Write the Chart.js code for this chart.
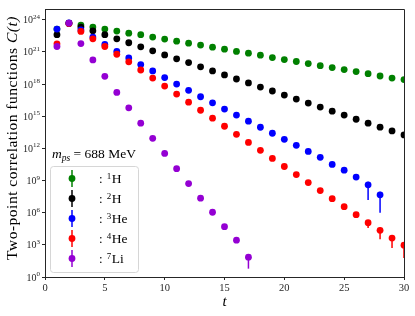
<!DOCTYPE html>
<html>
<head>
<meta charset="utf-8">
<script src="https://cdn.jsdelivr.net/npm/chart.js@4.4.0/dist/chart.umd.min.js"></script>
<style>
  body { margin: 0; background: #fff; }
</style>
</head>
<body>
<canvas id="corr_chart" width="415" height="316"></canvas>
<script>
// time slices
const t_vals = [1, 2, 3, 4, 5, 6, 7, 8, 9, 10, 11, 12, 13, 14, 15, 16, 17, 18, 19, 20,
  21, 22, 23, 24, 25, 26, 27, 28, 29, 30];

// correlator values
const h1_vals = [1.35e23, 4.9e23, 3.16e23, 2.04e23, 1.35e23, 8.7e22, 5.6e22, 4.0e22, 2.4e22, 1.55e22,
  1.0e22, 6.5e21, 4.3e21, 2.75e21, 1.78e21, 1.1e21, 7.6e20, 4.9e20, 2.95e20, 1.9e20,
  1.26e20, 8.1e19, 5.2e19, 3.4e19, 2.24e19, 1.45e19, 9.3e18, 5.6e18, 3.6e18, 2.6e18];
const h2_vals = [4.0e22, 4.5e23, 2.04e23, 9.3e22, 4.0e22, 1.66e22, 7.1e21, 2.95e21, 1.26e21, 5.2e20,
  2.24e20, 1.0e20, 4.0e19, 1.66e19, 7.1e18, 2.95e18, 1.26e18, 5.2e17, 2.24e17, 9.3e16,
  4.0e16, 1.66e16, 7.1e15, 2.95e15, 1.26e15, 5.2e14, 2.24e14, 9.5e13, 4.2e13, 1.8e13];
const he3_vals = [1.35e23, 5.0e23, 1.12e23, 2.4e22, 4.9e21, 1.1e21, 2.75e20, 6.6e19, 1.66e19, 4.0e18,
  1.0e18, 2.57e17, 6.5e16, 1.78e16, 4.6e15, 1.26e15, 3.4e14, 9.3e13, 2.57e13, 6.9e12,
  1.9e12, 5.2e11, 1.45e11, 3.16e10, 9.3e9, 2.1e9, 4.0e8, 4.6e7];
const he4_vals = [5.6e21, 4.5e23, 8.1e22, 1.66e22, 3.16e21, 6.0e20, 1.17e20, 2.04e19, 3.6e18, 6.5e17,
  1.15e17, 2.04e16, 3.6e15, 6.5e14, 1.15e14, 2.04e13, 3.6e12, 6.5e11, 1.15e11, 2.04e10,
  3.6e9, 6.5e8, 1.15e8, 2.04e7, 3.6e6, 6.5e5, 1.15e5, 2.24e4, 4.3e3, 9.3e2];
const li7_vals = [3.16e21, 4.9e23, 6.0e21, 1.78e20, 5.2e18, 1.66e17, 6.0e15, 2.24e14, 8.7e12, 3.4e11,
  1.26e10, 5.2e8, 2.24e7, 1.1e6, 4.9e4, 2.75e3, 71];

// errors (only the visible ones)
const he3_err = [0, 0, 0, 0, 0, 0, 0, 0, 0, 0, 0, 0, 0, 0, 0, 0, 0, 0, 0, 0,
  0, 0, 0, 0, 0, 0, 3.85e8, 4.5e7];
const he4_err = [0, 0, 0, 0, 0, 0, 0, 0, 0, 0, 0, 0, 0, 0, 0, 0, 0, 0, 0, 0,
  0, 0, 0, 0, 0, 0, 7.7e4, 1.9e4, 3.8e3, 870];
const li7_err = [0, 0, 0, 0, 0, 0, 0, 0, 0, 0, 0, 0, 0, 0, 0, 0, 65];

const nuclei = [["1", "H"], ["2", "H"], ["3", "He"], ["4", "He"], ["7", "Li"]];
const y_exps = [0, 3, 6, 9, 12, 15, 18, 21, 24];
const x_ticks = [0, 5, 10, 15, 20, 25, 30];

const SERIF = "'Liberation Serif', 'DejaVu Serif', serif";

function pts(vals) {
  return vals.map((v, i) => ({ x: t_vals[i], y: v }));
}

function make_set(vals, err, color, order) {
  return {
    data: pts(vals),
    err: err,
    backgroundColor: color,
    borderColor: color,
    pointRadius: 3.4,
    pointBorderWidth: 0,
    pointHoverRadius: 3.4,
    order: order,
    clip: 0,
  };
}

const corr_data = {
  datasets: [
    make_set(h1_vals, null, "#008000", 5),
    make_set(h2_vals, null, "#000000", 4),
    make_set(he3_vals, he3_err, "#0000ff", 3),
    make_set(he4_vals, he4_err, "#ff0000", 2),
    make_set(li7_vals, li7_err, "#9400d3", 1),
  ],
};

// error bars, frame, y tick labels, titles and legend
const extras = {
  id: "extras",
  beforeDatasetsDraw(chart) {
    const ctx = chart.ctx;
    const area = chart.chartArea;
    const xs = chart.scales.x;
    const ys = chart.scales.y;
    ctx.save();
    ctx.beginPath();
    ctx.rect(area.left, area.top, area.right - area.left, area.bottom - area.top);
    ctx.clip();
    chart.data.datasets.forEach((ds) => {
      if (!ds.err) return;
      ctx.strokeStyle = ds.borderColor;
      ctx.lineWidth = 1.5;
      ds.data.forEach((p, i) => {
        const e = ds.err[i];
        if (!e) return;
        const px = xs.getPixelForValue(p.x);
        const lo = p.y - e > 0 ? ys.getPixelForValue(p.y - e) : area.bottom;
        const hi = ys.getPixelForValue(p.y + e);
        ctx.beginPath();
        ctx.moveTo(px, lo);
        ctx.lineTo(px, hi);
        ctx.stroke();
      });
    });
    ctx.restore();
  },
  afterDraw(chart) {
    const ctx = chart.ctx;
    const area = chart.chartArea;
    const ys = chart.scales.y;
    ctx.save();

    // top / right frame
    ctx.strokeStyle = "#262626";
    ctx.lineWidth = 1;
    ctx.beginPath();
    ctx.moveTo(area.left, area.top + 0.5);
    ctx.lineTo(area.right + 0.5, area.top + 0.5);
    ctx.lineTo(area.right + 0.5, area.bottom);
    ctx.stroke();

    // y tick labels 10^n
    ctx.fillStyle = "#262626";
    ctx.textBaseline = "alphabetic";
    y_exps.forEach((e) => {
      const py = ys.getPixelForValue(Math.pow(10, e));
      ctx.font = "7px " + SERIF;
      const ew = ctx.measureText(String(e)).width;
      ctx.font = "10px " + SERIF;
      const bw = ctx.measureText("10").width;
      const right = area.left - 5;
      ctx.textAlign = "left";
      ctx.fillText("10", right - ew - bw, py + 3.5);
      ctx.font = "7px " + SERIF;
      ctx.fillText(String(e), right - ew, py - 1);
    });

    // y title
    ctx.save();
    ctx.translate(12.5, 138);
    ctx.rotate(-Math.PI / 2);
    ctx.letterSpacing = "0.5px";
    const part1 = "Two-point correlation functions ";
    const part2 = "C(t)";
    ctx.font = "italic 15.5px " + SERIF;
    const w2 = ctx.measureText(part2).width;
    ctx.font = "15.5px " + SERIF;
    const w1 = ctx.measureText(part1).width;
    ctx.textBaseline = "middle";
    ctx.textAlign = "left";
    ctx.fillStyle = "#000";
    ctx.fillText(part1, -(w1 + w2) / 2, 0);
    ctx.font = "italic 15.5px " + SERIF;
    ctx.fillText(part2, -(w1 + w2) / 2 + w1, 0);
    ctx.restore();

    // x title
    ctx.fillStyle = "#000";
    ctx.font = "italic 15px " + SERIF;
    ctx.textAlign = "center";
    ctx.textBaseline = "middle";
    ctx.fillText("t", (area.left + area.right) / 2, 302);

    // mass label
    ctx.textAlign = "left";
    ctx.textBaseline = "alphabetic";
    let x0 = 52;
    const by = 158;
    ctx.font = "italic 13.5px " + SERIF;
    ctx.fillText("m", x0, by);
    x0 += ctx.measureText("m").width;
    ctx.font = "italic 9.5px " + SERIF;
    ctx.fillText("ps", x0, by + 2.5);
    x0 += ctx.measureText("ps").width;
    ctx.font = "13.5px " + SERIF;
    ctx.fillText(" = 688 MeV", x0, by);

    // legend box
    const lx = 50.5, ly = 166.5, lw = 88, lh = 106;
    ctx.fillStyle = "rgba(255,255,255,0.8)";
    ctx.strokeStyle = "#d6d6d6";
    ctx.lineWidth = 1;
    ctx.beginPath();
    ctx.roundRect(lx, ly, lw, lh, 3);
    ctx.fill();
    ctx.stroke();

    chart.data.datasets.forEach((ds, i) => {
      const cy = 178.5 + 20 * i;
      const cx = 72;
      ctx.strokeStyle = ds.borderColor;
      ctx.lineWidth = 1.5;
      ctx.beginPath();
      ctx.moveTo(cx, cy - 8.5);
      ctx.lineTo(cx, cy + 8.5);
      ctx.stroke();
      ctx.fillStyle = ds.backgroundColor;
      ctx.beginPath();
      ctx.arc(cx, cy, 3.4, 0, Math.PI * 2);
      ctx.fill();

      ctx.fillStyle = "#000";
      let tx = 99;
      ctx.font = "13px " + SERIF;
      ctx.fillText(":", tx, cy + 4.5);
      tx += ctx.measureText(": ").width + 1;
      ctx.font = "9px " + SERIF;
      ctx.fillText(nuclei[i][0], tx, cy);
      tx += ctx.measureText(nuclei[i][0]).width + 0.5;
      ctx.font = "13.5px " + SERIF;
      ctx.fillText(nuclei[i][1], tx, cy + 4.5);
    });

    ctx.restore();
  },
};

const corr_config = {
  type: "scatter",
  data: corr_data,
  options: {
    responsive: false,
    animation: false,
    devicePixelRatio: 1,
    layout: { padding: { top: 9, right: 11, left: 0, bottom: 0 } },
    plugins: {
      legend: { display: false },
      tooltip: { enabled: false },
    },
    scales: {
      x: {
        type: "linear",
        min: 0,
        max: 30,
        afterBuildTicks: (axis) => {
          axis.ticks = x_ticks.map((v) => ({ value: v }));
        },
        afterFit: (axis) => {
          axis.height = 39;
        },
        ticks: {
          color: "#262626",
          font: { family: SERIF, size: 10.5 },
          padding: 2,
          maxRotation: 0,
        },
        grid: {
          drawOnChartArea: false,
          drawTicks: true,
          tickLength: 3,
          color: "#262626",
        },
        border: { display: true, color: "#262626", width: 1 },
      },
      y: {
        type: "logarithmic",
        min: 1,
        max: 1e25,
        afterBuildTicks: (axis) => {
          axis.ticks = y_exps.map((e) => ({ value: Math.pow(10, e) }));
        },
        afterFit: (axis) => {
          axis.width = 45;
        },
        ticks: { display: false },
        grid: {
          drawOnChartArea: false,
          drawTicks: true,
          tickLength: 3,
          color: "#262626",
        },
        border: { display: true, color: "#262626", width: 1 },
      },
    },
  },
  plugins: [extras],
};

const corr_chart = new Chart(document.getElementById("corr_chart"), corr_config);
</script>
</body>
</html>
